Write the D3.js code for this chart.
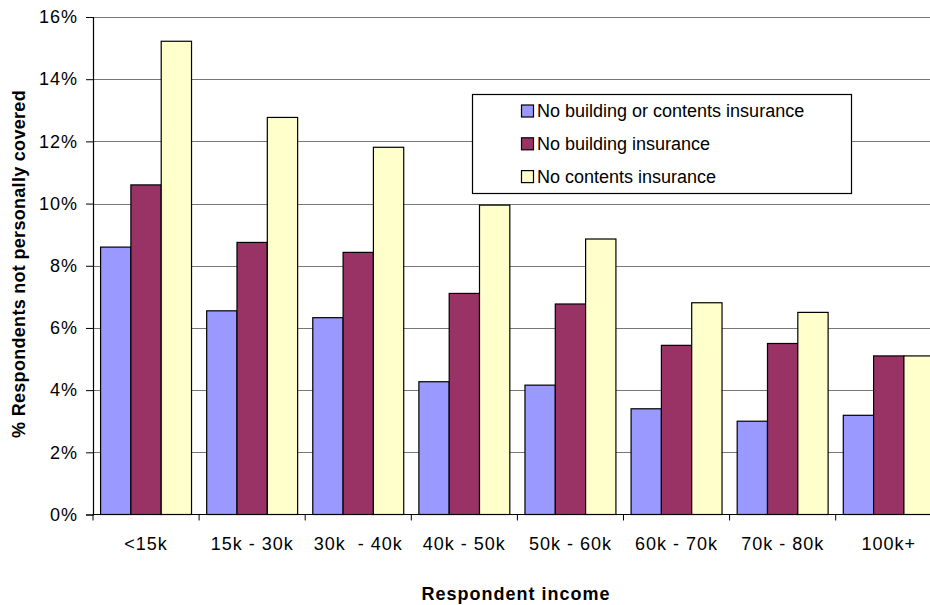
<!DOCTYPE html>
<html>
<head>
<meta charset="utf-8">
<script src="https://cdn.jsdelivr.net/npm/d3@7"></script>
<style>
  html, body { margin: 0; padding: 0; background: #fff; }
  svg { display: block; font-family: Arial, "Liberation Sans", sans-serif; }
</style>
</head>
<body>
<svg id="chart" width="930" height="605"></svg>
<script>
// Income bands and the share of respondents without cover (%)
const categories = ["<15k", "15k - 30k", "30k  - 40k", "40k - 50k", "50k - 60k", "60k - 70k", "70k - 80k", "100k+"];
const seriesNames = ["No building or contents insurance", "No building insurance", "No contents insurance"];
const noBuildingOrContents = [8.6, 6.55, 6.33, 4.27, 4.16, 3.4, 3.0, 3.19];
const noBuilding = [10.6, 8.75, 8.43, 7.11, 6.77, 5.44, 5.5, 5.1];
const noContents = [15.22, 12.77, 11.81, 9.95, 8.86, 6.81, 6.5, 5.1];
const yTicks = [0, 2, 4, 6, 8, 10, 12, 14, 16];
const colors = ["#9999FF", "#993366", "#FFFFCC"];

const series = [noBuildingOrContents, noBuilding, noContents];

const svg = d3.select("#chart");
const plotLeft = 93, plotTop = 17, plotBottom = 514.5;
const bandW = 106.1;
const plotRight = plotLeft + bandW * categories.length;

const x = d3.scaleBand().domain(categories).range([plotLeft, plotRight]).paddingInner(0).paddingOuter(0);
const xInner = d3.scaleBand().domain(d3.range(series.length)).range([0, x.bandwidth()]).paddingOuter(0.25).paddingInner(0);
const y = d3.scaleLinear().domain([0, 16]).range([plotBottom, plotTop]);

// Horizontal gridlines
svg.append("g")
  .selectAll("line")
  .data(yTicks.filter(t => t > 0))
  .join("line")
  .attr("x1", plotLeft).attr("x2", plotRight)
  .attr("y1", d => Math.round(y(d)) + 0.5).attr("y2", d => Math.round(y(d)) + 0.5)
  .attr("stroke", "#777").attr("stroke-width", 1.2);

// Bars
const groups = svg.append("g")
  .selectAll("g")
  .data(categories)
  .join("g")
  .attr("transform", d => `translate(${x(d)},0)`);

groups.selectAll("rect")
  .data((d, i) => series.map((s, k) => ({ k, v: s[i] })))
  .join("rect")
  .attr("x", d => xInner(d.k))
  .attr("width", xInner.bandwidth())
  .attr("y", d => y(d.v))
  .attr("height", d => y(0) - y(d.v))
  .attr("fill", d => colors[d.k])
  .attr("stroke", "#000").attr("stroke-width", 1.2);

// Y axis
const yAxis = d3.axisLeft(y).tickValues(yTicks).tickFormat(d => d + "%").tickSize(7).tickPadding(8);
const gy = svg.append("g").attr("transform", `translate(${plotLeft},0)`).call(yAxis);
gy.select(".domain").attr("stroke", "#000").attr("stroke-width", 1.2);
gy.selectAll(".tick line").attr("stroke", "#000");
gy.selectAll(".tick text").attr("font-size", 18).attr("fill", "#000")
  .attr("letter-spacing", 1)
  .attr("font-family", "Arial, 'Liberation Sans', sans-serif");

// X axis: ticks sit on the band boundaries, labels in the band centres
const gx = svg.append("g").attr("transform", `translate(0,${plotBottom})`);
gx.append("line").attr("x1", plotLeft).attr("x2", plotRight).attr("y1", 0).attr("y2", 0)
  .attr("stroke", "#000").attr("stroke-width", 1.2);
gx.selectAll("line.tk")
  .data(categories.concat([null]))
  .join("line").attr("class", "tk")
  .attr("x1", (d, i) => plotLeft + i * x.step()).attr("x2", (d, i) => plotLeft + i * x.step())
  .attr("y1", 0).attr("y2", 6)
  .attr("stroke", "#000");
gx.selectAll("text")
  .data(categories)
  .join("text")
  .attr("x", d => x(d) + x.bandwidth() / 2)
  .attr("y", 35.5)
  .attr("text-anchor", "middle")
  .attr("font-size", 18)
  .attr("letter-spacing", 1)
  .attr("fill", "#000")
  .style("white-space", "pre")
  .text(d => d);

// Axis titles
svg.append("text")
  .attr("x", 516).attr("y", 600)
  .attr("text-anchor", "middle")
  .attr("font-size", 18).attr("font-weight", "bold")
  .attr("letter-spacing", 1)
  .text("Respondent income");

svg.append("text")
  .attr("transform", "translate(25,264) rotate(-90)")
  .attr("text-anchor", "middle")
  .attr("font-size", 18).attr("font-weight", "bold")
  .attr("letter-spacing", 0.3)
  .text("% Respondents not personally covered");

// Legend
const legend = svg.append("g");
legend.append("rect")
  .attr("x", 472.5).attr("y", 94.5).attr("width", 379).attr("height", 99)
  .attr("fill", "#fff").attr("stroke", "#000").attr("stroke-width", 1.2);
const rows = legend.selectAll("g.row")
  .data(seriesNames)
  .join("g").attr("class", "row")
  .attr("transform", (d, i) => `translate(521,${111 + i * 32.8})`);
rows.append("rect")
  .attr("x", 0.5).attr("y", -6).attr("width", 12).attr("height", 12)
  .attr("fill", (d, i) => colors[i]).attr("stroke", "#000").attr("stroke-width", 1.2);
rows.append("text")
  .attr("x", 16).attr("y", 6)
  .attr("font-size", 18).attr("fill", "#000")
  .text(d => d);
</script>
</body>
</html>
